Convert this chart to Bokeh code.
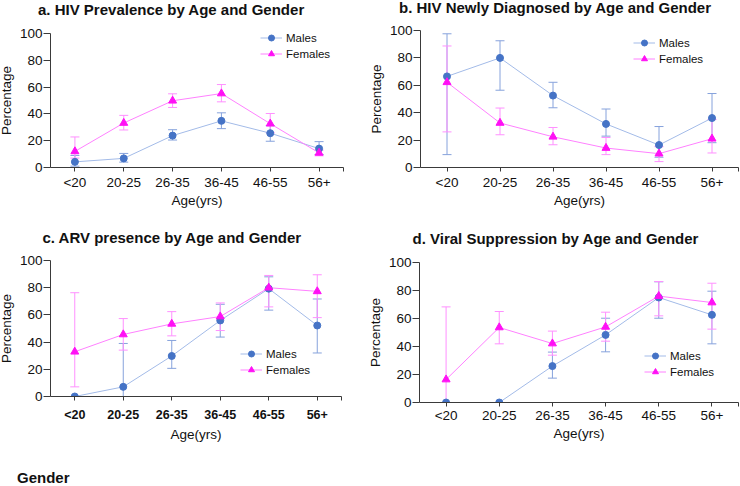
from bokeh.plotting import figure
from bokeh.models import (Range1d, FixedTicker, ColumnDataSource, Whisker, TeeHead,
                          Legend, LegendItem, Div)
from bokeh.layouts import column, row
from bokeh.embed import file_html
from bokeh.resources import INLINE

ages = ["<20", "20-25", "26-35", "36-45", "46-55", "56+"]
y_ticks = [0, 20, 40, 60, 80, 100]

# a. HIV prevalence
prev_m = [4.2, 6.8, 23.8, 34.8, 25.6, 14.1]
prev_m_lo = [1.0, 4.0, 20.5, 29.0, 19.6, 9.7]
prev_m_hi = [9.0, 10.5, 28.2, 40.8, 31.2, 19.3]
prev_f = [12.0, 33.2, 49.8, 55.2, 32.7, 10.9]
prev_f_lo = [7.0, 28.0, 44.8, 49.0, 26.0, 8.7]
prev_f_hi = [22.8, 38.9, 55.0, 61.9, 40.3, 13.0]
# b. newly diagnosed
new_m = [66.5, 80.0, 52.5, 31.8, 16.4, 36.1]
new_m_lo = [9.4, 56.4, 43.6, 22.9, 7.5, 18.1]
new_m_hi = [97.6, 92.5, 62.2, 42.7, 29.9, 54.0]
new_f = [62.2, 32.5, 22.4, 14.2, 10.1, 21.0]
new_f_lo = [26.0, 23.9, 16.6, 9.4, 4.3, 10.6]
new_f_hi = [88.7, 43.4, 29.2, 21.9, 15.2, 35.0]
# c. ARV presence
arv_m = [0.0, 7.1, 29.8, 55.9, 79.3, 52.2]
arv_m_lo = [0.0, 0.0, 20.7, 43.7, 63.5, 32.0]
arv_m_hi = [0.0, 39.0, 41.2, 67.8, 88.0, 71.7]
arv_f = [32.9, 45.6, 53.4, 58.8, 80.0, 77.3]
arv_f_lo = [7.1, 34.1, 44.6, 48.5, 65.9, 58.0]
arv_f_hi = [76.3, 57.3, 62.4, 68.8, 89.0, 89.5]
# d. viral suppression
vs_m = [0.0, 0.0, 26.0, 48.3, 75.0, 62.6]
vs_m_lo = [0.0, 0.0, 17.4, 36.2, 60.2, 41.9]
vs_m_hi = [0.0, 0.0, 36.0, 60.2, 86.2, 79.5]
vs_f = [16.4, 53.6, 42.1, 54.0, 76.0, 71.4]
vs_f_lo = [0.0, 41.9, 33.8, 43.8, 61.9, 52.4]
vs_f_hi = [68.3, 65.0, 51.0, 64.5, 86.4, 85.2]

titles = ["a. HIV Prevalence by Age and Gender",
          "b. HIV Newly Diagnosed by Age and Gender",
          "c. ARV presence by Age and Gender",
          "d. Viral Suppression by Age and Gender"]

M_MARK = "#4573c6"
M_LINE = "#a3bbe8"
M_ERR = "#86a2dc"
F_MARK = "#ff10f5"
F_LINE = "#ff80ff"
F_ERR = "#ff90ff"
FONT = "Liberation Sans"
AXC = "#3a3a3a"
TXT = "#111111"
SHIFT = 6


def panel(title, m, m_lo, m_hi, f, f_lo, f_hi, width, height, borders,
          title_offset, title_standoff, legend_loc, bold_x=False, x_standoff=3,
          xl_standoff=0):
    bl, br, bt, bb = borders
    p = figure(width=width + SHIFT, height=height, output_backend="svg",
               toolbar_location=None, x_range=Range1d(-0.5, len(ages) - 0.5),
               y_range=Range1d(0, 100), min_border_left=bl + SHIFT,
               min_border_right=br, min_border_top=bt, min_border_bottom=bb,
               margin=(0, 0, 0, -SHIFT))
    try:
        p.frame_align = False
    except Exception:
        pass
    if title:
        p.title.text = title
        p.title.text_font = FONT
        p.title.text_font_size = "15px"
        p.title.text_font_style = "bold"
        p.title.text_color = TXT
        p.title.align = "left"
        p.title.vertical_align = "top"
        p.title.offset = title_offset
        p.title.standoff = title_standoff
    p.outline_line_color = None
    p.grid.visible = False
    p.background_fill_color = None
    p.border_fill_color = None

    xs = list(range(len(ages)))
    p.xaxis.ticker = FixedTicker(ticks=xs + [len(ages) - 0.5])
    overrides = {i: a for i, a in enumerate(ages)}
    overrides[len(ages) - 0.5] = ""
    p.xaxis.major_label_overrides = overrides
    p.yaxis.ticker = FixedTicker(ticks=y_ticks)
    for ax in (p.xaxis[0], p.yaxis[0]):
        ax.axis_line_color = AXC
        ax.major_tick_line_color = AXC
        ax.minor_tick_line_color = None
        ax.major_tick_in = 0
        ax.major_label_text_font = FONT
        ax.major_label_text_color = TXT
        ax.axis_label_text_font = FONT
        ax.axis_label_text_font_style = "normal"
        ax.axis_label_text_color = TXT
        ax.axis_label_text_font_size = "13.5px"
    p.xaxis.major_tick_out = 4
    p.yaxis.major_tick_out = 7
    p.yaxis.major_label_text_font_size = "13.5px"
    p.yaxis.major_label_standoff = 1
    p.yaxis.axis_label = "Percentage"
    p.yaxis.axis_label_standoff = 3
    p.xaxis.axis_label = "Age(yrs)"
    p.xaxis.major_label_standoff = x_standoff
    p.xaxis.axis_label_standoff = xl_standoff
    if bold_x:
        p.xaxis.major_label_text_font_style = "bold"
        p.xaxis.major_label_text_font_size = "12.5px"
    else:
        p.xaxis.major_label_text_font_size = "13.5px"

    sm = ColumnDataSource(dict(x=xs, y=m, lo=m_lo, hi=m_hi))
    sf = ColumnDataSource(dict(x=xs, y=f, lo=f_lo, hi=f_hi))
    for src, col in ((sm, M_ERR), (sf, F_ERR)):
        p.add_layout(Whisker(source=src, base="x", lower="lo", upper="hi",
                             line_color=col, line_width=1,
                             upper_head=TeeHead(size=9, line_color=col, line_width=1),
                             lower_head=TeeHead(size=9, line_color=col, line_width=1)))
    lm = p.line("x", "y", source=sm, line_color=M_LINE, line_width=1)
    lf = p.line("x", "y", source=sf, line_color=F_LINE, line_width=1)
    cm = p.scatter("x", "y", source=sm, marker="circle", size=7,
                   fill_color=M_MARK, line_color=M_MARK)
    cf = p.scatter("x", "y", source=sf, marker="triangle", size=8,
                   fill_color=F_MARK, line_color=F_MARK)
    leg = Legend(items=[LegendItem(label="Males", renderers=[lm, cm]),
                        LegendItem(label="Females", renderers=[lf, cf])],
                 location=legend_loc, padding=0, margin=0, spacing=1,
                 glyph_width=22, glyph_height=15, label_height=15,
                 label_standoff=4, label_text_font=FONT,
                 label_text_font_size="11.5px", label_text_color=TXT,
                 border_line_color=None, background_fill_alpha=0)
    p.add_layout(leg, "center")
    return p


def title_div(text, pad_top, pad_left, line_h):
    return Div(text=('<div style="padding:%dpx 0 0 %dpx;font-family:\'Liberation Sans\';'
                     'font-weight:bold;font-size:15px;line-height:%dpx;color:#111;'
                     'white-space:nowrap">%s</div>') % (pad_top, pad_left, line_h, text),
               width=370, height=20, margin=0)


ta = title_div(titles[0], 1, 38, 18)
tb = title_div(titles[1], 0, 29, 16)

pa = panel(None, prev_m, prev_m_lo, prev_m_hi, prev_f, prev_f_lo, prev_f_hi,
           370, 195, (50, 27, 13, 48), 0, 0, (210, 106))
pb = panel(None, new_m, new_m_lo, new_m_hi, new_f, new_f_lo, new_f_hi,
           370, 195, (50, 2, 10, 48), 0, 0, (213, 101))
pc = panel(titles[2], arv_m, arv_m_lo, arv_m_hi, arv_f, arv_f_lo, arv_f_hi,
           370, 234, (50, 29, 45, 53), -8, 26, (190, 19),
           bold_x=True, x_standoff=7, xl_standoff=2)
pd = panel(titles[3], vs_m, vs_m_lo, vs_m_hi, vs_f, vs_f_lo, vs_f_hi,
           370, 234, (49, 2, 47, 47), -7, 28, (225, 23),
           x_standoff=1, xl_standoff=0)

gender = Div(text='<div style="padding:16px 0 0 12px;font-family:\'Liberation Sans\';'
                  'font-weight:bold;font-size:15px;line-height:16px;color:#111">Gender</div>',
             width=740, height=37)

layout = column(row(ta, tb), row(pa, pb), row(pc, pd), gender)

open("out.html", "w").write(file_html(layout, INLINE))
